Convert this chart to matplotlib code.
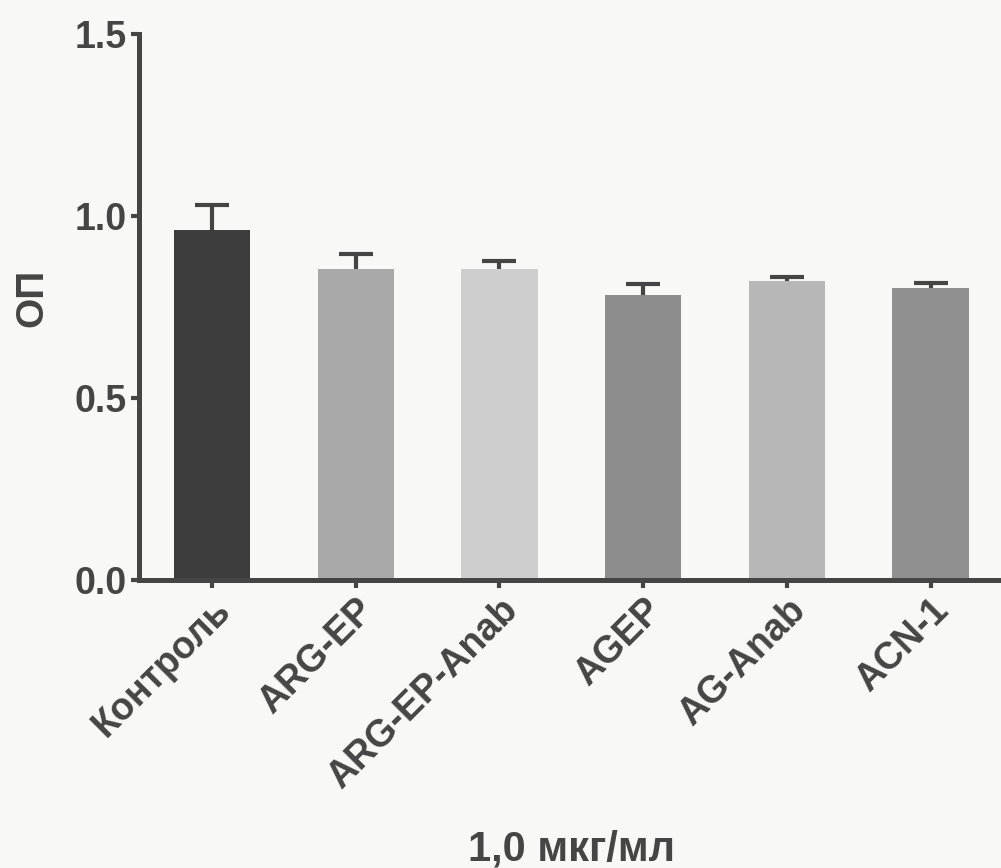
import matplotlib.pyplot as plt

# data
groups = ['Контроль', 'ARG-EP', 'ARG-EP-Anab', 'AGEP', 'AG-Anab', 'ACN-1']
means = [0.962, 0.854, 0.854, 0.783, 0.820, 0.803]
errs = [0.068, 0.042, 0.022, 0.029, 0.012, 0.012]
colors = ['#3d3d3d', '#a9a9a9', '#cecece', '#8d8d8d', '#b7b7b7', '#8f908f']

ink = '#454545'
plt.rcParams['font.family'] = ['Liberation Sans', 'DejaVu Sans']

fig = plt.figure(figsize=(10.01, 8.68), dpi=100, facecolor='#f8f8f6')
ax = fig.add_axes([0.139, 0.332, 0.861, 0.629])
ax.set_facecolor('#f8f8f6')

x = range(len(groups))
ax.bar(x, means, width=0.53, color=colors, zorder=2)
# only the upper half of the error bar is shown
eb = ax.errorbar(x, means, yerr=[[0] * len(errs), errs], fmt='none',
                 ecolor=ink, elinewidth=3, capsize=12.5, capthick=3, zorder=3)
eb[1][0].set_visible(False)

ax.set_xlim(-0.507, 5.49)
ax.set_ylim(0, 1.5)
ax.set_yticks([0.0, 0.5, 1.0, 1.5])
ax.set_yticklabels(['0.0', '0.5', '1.0', '1.5'], fontsize=27, fontweight='bold', color=ink)
ax.set_xticks(list(x))
ax.set_xticklabels(groups, rotation=45, ha='right', rotation_mode='anchor',
                   fontsize=27, fontweight='bold', color=ink)

for s in ['top', 'right']:
    ax.spines[s].set_visible(False)
for s in ['left', 'bottom']:
    ax.spines[s].set_linewidth(3.6)
    ax.spines[s].set_color(ink)
ax.tick_params(axis='both', length=6, width=3, color=ink, pad=3)

ax.set_ylabel('ОП', fontsize=28, fontweight='bold', color=ink)
ax.yaxis.set_label_coords(-0.103, 0.516)
fig.text(0.571, 0.009, '1,0 мкг/мл', fontsize=30, fontweight='bold', color=ink,
         ha='center', va='baseline')

fig.savefig('out.png', dpi=100, facecolor=fig.get_facecolor())
